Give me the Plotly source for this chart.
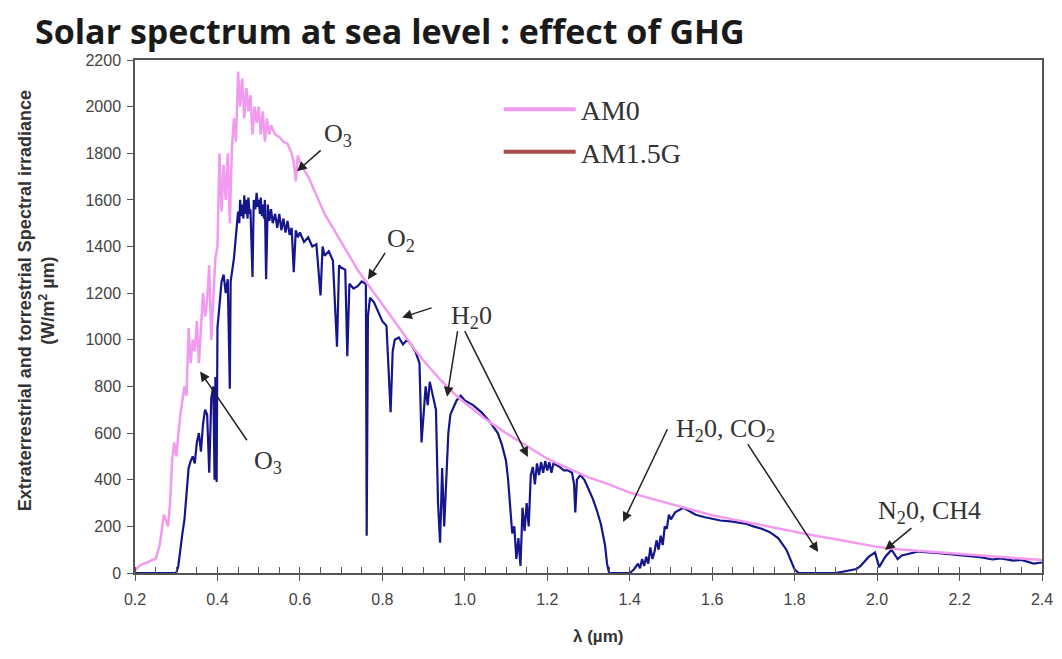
import plotly.graph_objects as go

# ---------------- data ----------------
wl_am0 = [0.20, 0.21, 0.22, 0.23, 0.24, 0.25, 0.26, 0.27, 0.28, 0.285, 0.29, 0.295, 0.30, 0.305,
          0.31, 0.315, 0.32, 0.325, 0.33, 0.335, 0.34, 0.345, 0.35, 0.355, 0.36, 0.365, 0.37,
          0.375, 0.38, 0.385, 0.39, 0.395, 0.40, 0.405, 0.41, 0.415, 0.42, 0.425, 0.43, 0.435,
          0.44, 0.445, 0.45, 0.455, 0.46, 0.465, 0.47, 0.475, 0.48, 0.485, 0.49, 0.495, 0.50,
          0.505, 0.51, 0.515, 0.52, 0.525, 0.53, 0.54, 0.55, 0.56, 0.57, 0.58, 0.585, 0.59,
          0.595, 0.60, 0.62, 0.64, 0.66, 0.68, 0.70, 0.72, 0.74, 0.76, 0.78, 0.80, 0.82, 0.84,
          0.86, 0.88, 0.90, 0.92, 0.94, 0.96, 0.98, 1.00, 1.05, 1.10, 1.15, 1.20, 1.25, 1.30,
          1.35, 1.40, 1.45, 1.50, 1.55, 1.60, 1.65, 1.70, 1.75, 1.80, 1.85, 1.90, 1.95, 2.00,
          2.05, 2.10, 2.15, 2.20, 2.25, 2.30, 2.35, 2.40]
irr_am0 = [10, 30, 40, 45, 55, 60, 120, 250, 200, 300, 480, 560, 500, 600,
           680, 740, 800, 760, 1050, 900, 1000, 950, 1080, 900, 1050, 1200, 1100,
           1170, 1320, 1000, 1180, 1350, 1400, 1800, 1550, 1750, 1600, 1800, 1500, 1820,
           1950, 1850, 2150, 2000, 2120, 1950, 2080, 1980, 2050, 1880, 2000, 1930, 2000,
           1880, 1980, 1850, 1950, 1880, 1920, 1880, 1870, 1850, 1840, 1800, 1760, 1680,
           1790, 1760, 1700, 1620, 1540, 1480, 1420, 1360, 1300, 1250, 1200, 1150, 1100, 1050,
           1000, 955, 910, 870, 830, 795, 760, 730, 660, 600, 545, 490, 450, 410,
           380, 345, 320, 295, 270, 248, 230, 212, 195, 178, 160, 145, 128, 112,
           102, 95, 88, 80, 74, 68, 62, 56]

wl_am15 = [0.20, 0.30, 0.305, 0.31, 0.315, 0.32, 0.325, 0.33, 0.335, 0.34, 0.345, 0.35, 0.355,
           0.36, 0.365, 0.37, 0.375, 0.38, 0.385, 0.39, 0.393, 0.395, 0.398, 0.40, 0.405, 0.41,
           0.415, 0.42, 0.425, 0.43, 0.432, 0.44, 0.445, 0.45, 0.453, 0.455, 0.458, 0.46, 0.463,
           0.465, 0.468, 0.47, 0.473, 0.475, 0.478, 0.48, 0.485, 0.488, 0.492, 0.495, 0.498,
           0.50, 0.503, 0.505, 0.508, 0.51, 0.513, 0.515, 0.518, 0.522, 0.526, 0.53, 0.534,
           0.54, 0.545, 0.55, 0.555, 0.56, 0.565, 0.57, 0.575, 0.58, 0.585, 0.59, 0.595, 0.60,
           0.61, 0.62, 0.63, 0.64, 0.65, 0.655, 0.66, 0.67, 0.68, 0.69, 0.695,
           0.70, 0.71, 0.715, 0.72, 0.73, 0.74, 0.75, 0.76, 0.762, 0.765, 0.77, 0.78, 0.79, 0.80,
           0.81, 0.815, 0.82, 0.825, 0.83, 0.84, 0.85, 0.86, 0.87, 0.88, 0.89, 0.895, 0.90, 0.905,
           0.91, 0.915, 0.92, 0.93, 0.935, 0.94, 0.945, 0.95, 0.955, 0.96, 0.965, 0.97, 0.98,
           0.99, 1.00, 1.02, 1.04, 1.06, 1.08, 1.09, 1.10, 1.105, 1.11, 1.115, 1.12, 1.125, 1.13,
           1.135, 1.14, 1.145, 1.15, 1.155, 1.16, 1.165, 1.17, 1.175, 1.18, 1.185, 1.19, 1.195,
           1.20, 1.205, 1.21, 1.215, 1.22, 1.23, 1.24, 1.25, 1.26, 1.265, 1.268, 1.272, 1.28,
           1.29, 1.30, 1.31, 1.32, 1.33, 1.34, 1.345, 1.35, 1.40, 1.41, 1.42, 1.425, 1.43, 1.435,
           1.44, 1.445, 1.45, 1.455, 1.46, 1.465, 1.47, 1.475, 1.48, 1.485, 1.49, 1.495, 1.50,
           1.51, 1.52, 1.53, 1.54, 1.56, 1.58, 1.60, 1.62, 1.65, 1.68, 1.70, 1.72, 1.74, 1.76,
           1.78, 1.79, 1.80, 1.81, 1.90, 1.95, 1.96, 1.98, 1.995, 2.005, 2.02, 2.035, 2.05, 2.06,
           2.08, 2.10, 2.15, 2.20, 2.25, 2.28, 2.30, 2.33, 2.35, 2.38, 2.40]
irr_am15 = [0, 0, 30, 110, 170, 230, 340, 450, 480, 500, 470, 560, 600,
            520, 640, 700, 680, 430, 750, 800, 400, 840, 390, 1050, 1150, 1250,
            1280, 1200, 1260, 790, 1250, 1350, 1450, 1550, 1500, 1600, 1530, 1580, 1520,
            1620, 1540, 1600, 1520, 1610, 1540, 1560, 1270, 1600, 1560, 1630, 1570,
            1600, 1540, 1610, 1530, 1580, 1520, 1600, 1260, 1580, 1510, 1560, 1500,
            1540, 1480, 1540, 1470, 1520, 1460, 1510, 1450, 1480, 1290, 1470, 1440, 1460,
            1420, 1440, 1400, 1410, 1190, 1400, 1360, 1380, 1340, 970, 1320,
            1310, 1300, 930, 1240, 1220, 1230, 1250, 1240, 160, 1100, 1180, 1160, 1120, 1080,
            1060, 900, 690, 950, 1000, 1010, 980, 1000, 980, 950, 900, 560, 700, 800,
            720, 820, 780, 700, 300, 130, 450, 200, 400, 600, 680, 700, 740,
            760, 740, 720, 690, 650, 600, 550, 480, 400, 300, 170, 200, 60, 150,
            30, 280, 180, 300, 200, 420, 455, 380, 470, 420, 475, 430, 480,
            440, 475, 430, 470, 465, 455, 440, 440, 430, 380, 260, 400, 420,
            400, 360, 320, 270, 210, 120, 40, 0, 0, 15, 40, 20, 60, 30,
            70, 40, 110, 60, 90, 140, 100, 160, 120, 200, 190, 250, 230,
            260, 270, 280, 270, 250, 240, 232, 225, 220, 212, 200, 190, 175, 150,
            100, 60, 15, 0, 0, 17, 30, 70, 88, 25, 70, 100, 60, 75,
            85, 92, 85, 76, 68, 58, 63, 53, 56, 40, 45]

x_ticks = [0.2, 0.4, 0.6, 0.8, 1.0, 1.2, 1.4, 1.6, 1.8, 2.0, 2.2, 2.4]
x_tick_labels = ["0.2", "0.4", "0.6", "0.8", "1.0", "1.2", "1.4", "1.6", "1.8", "2.0", "2.2", "2.4"]
y_ticks = [0, 200, 400, 600, 800, 1000, 1200, 1400, 1600, 1800, 2000, 2200]

# annotation labels (text, x, y) and arrows (tail x, tail y, tip x, tip y)
label_text = ["O<sub>3</sub>", "O<sub>3</sub>", "O<sub>2</sub>", "H<sub>2</sub>0",
              "H<sub>2</sub>0, CO<sub>2</sub>", "N<sub>2</sub>0, CH4"]
label_x = [0.692, 0.523, 0.845, 1.015, 1.633, 2.128]
label_y = [1880, 475, 1430, 1096, 614, 262]
arrow_tail_x = [0.654, 0.474, 0.809, 0.923, 0.983, 0.998, 1.493, 1.684, 2.087]
arrow_tail_y = [1818, 563, 1379, 1139, 1044, 1044, 623, 559, 198]
arrow_tip_x = [0.593, 0.358, 0.765, 0.848, 0.957, 1.153, 1.384, 1.857, 2.019]
arrow_tip_y = [1723, 864, 1259, 1096, 756, 498, 219, 90, 99]

PINK = "#F29AF0"
NAVY = "#16168C"
BROWN = "#A84A4A"

fig = go.Figure()
fig.add_trace(go.Scatter(x=wl_am15, y=irr_am15, mode="lines", line=dict(color=NAVY, width=2.2),
                         showlegend=False, name="AM1.5G"))
fig.add_trace(go.Scatter(x=wl_am0, y=irr_am0, mode="lines", line=dict(color=PINK, width=2.5),
                         showlegend=False, name="AM0"))
# legend entries
fig.add_trace(go.Scatter(x=[None], y=[None], mode="lines", line=dict(color=PINK, width=4),
                         name="AM0", legendgroup="a"))
fig.add_trace(go.Scatter(x=[None], y=[None], mode="lines", line=dict(color=BROWN, width=4),
                         name="AM1.5G", legendgroup="b"))

serif = "Liberation Serif, Times New Roman, serif"
for t, x, y in zip(label_text, label_x, label_y):
    fig.add_annotation(x=x, y=y, text=t, showarrow=False,
                       font=dict(family=serif, size=26, color="#333333"))
for tx, ty, hx, hy in zip(arrow_tail_x, arrow_tail_y, arrow_tip_x, arrow_tip_y):
    fig.add_annotation(x=hx, y=hy, ax=tx, ay=ty, axref="x", ayref="y", text="",
                       showarrow=True, arrowhead=2, arrowsize=1.3, arrowwidth=1.5,
                       arrowcolor="#222222", standoff=0, startstandoff=0)

# axis titles
fig.add_annotation(xref="paper", yref="paper", x=-0.109, y=0.53, textangle=-90,
                   text="Extraterrestrial and torrestrial Spectral irradiance<br>(W/m<sup>2</sup> µm)",
                   showarrow=False, xanchor="center", yanchor="middle",
                   font=dict(family="Liberation Sans, Arial", size=18, color="#333333", weight="bold"))
fig.add_annotation(xref="paper", yref="paper", x=0.51, y=-0.123, text="λ (µm)",
                   showarrow=False, xanchor="center", yanchor="middle",
                   font=dict(family="Liberation Sans, Arial", size=17, color="#333333", weight="bold"))

fig.update_layout(
    width=1062, height=659,
    paper_bgcolor="white", plot_bgcolor="white",
    margin=dict(l=127, r=28, t=52, b=94),
    title=dict(text="<b>Solar spectrum at sea level : effect of GHG</b>",
               x=0.0254, xref="container", xanchor="left",
               y=0.964, yref="container", yanchor="middle",
               font=dict(family="Open Sans, sans-serif", size=34, color="#1a1a1a")),
    legend=dict(x=0.401, y=0.952, xanchor="left", yanchor="top",
                font=dict(family=serif, size=28, color="#333333"),
                bgcolor="rgba(0,0,0,0)", traceorder="grouped", tracegroupgap=3,
                itemwidth=72),
    xaxis=dict(range=[0.2, 2.4], tickvals=x_ticks, ticktext=x_tick_labels,
               showgrid=False, zeroline=False, showline=True, linecolor="#555555", linewidth=1.5,
               mirror=True, ticks="outside", ticklen=6, tickcolor="#555555",
               ticklabelstandoff=5,
               minor=dict(dtick=0.05, ticks="inside", ticklen=6, tickcolor="#555555"),
               tickfont=dict(family="Liberation Sans, Arial", size=16, color="#444444")),
    yaxis=dict(range=[0, 2200], tickvals=y_ticks,
               showgrid=False, zeroline=False, showline=True, linecolor="#555555", linewidth=1.5,
               mirror=True, ticks="outside", ticklen=6, tickcolor="#555555",
               ticklabelstandoff=3,
               tickfont=dict(family="Liberation Sans, Arial", size=16, color="#444444")),
)

fig.write_html("out.html")
